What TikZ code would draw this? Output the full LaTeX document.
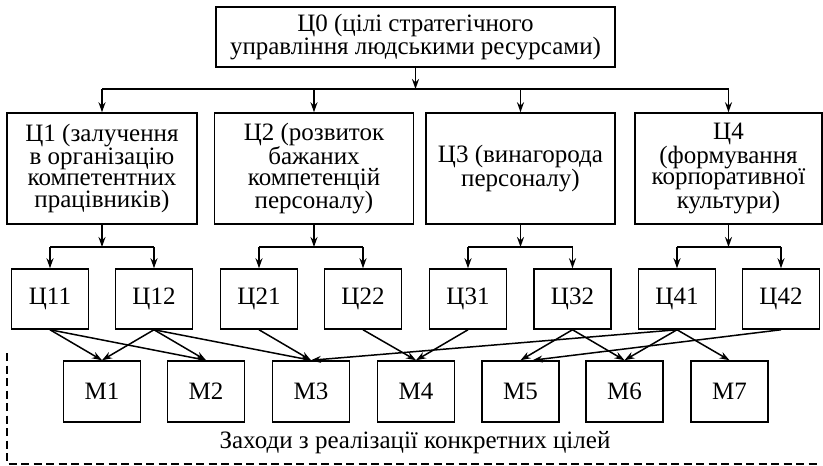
\documentclass[tikz,border=0pt]{standalone}
\usepackage{fontspec}
\setmainfont{Liberation Serif}
\usetikzlibrary{arrows.meta}

\begin{document}
\begin{tikzpicture}[
        x=1pt, y=-1pt,
        >={Stealth[length=10pt, width=7pt]},
        every path/.style={line width=1.5pt},
        goal/.style={rectangle, draw=black, line width=1.5pt, inner sep=0pt, align=center, text centered, font=\fontsize{25}{21.5}\selectfont},
        sub/.style={goal, minimum width=77pt, minimum height=60pt},
        meas/.style={goal, minimum width=77pt, minimum height=61pt}
    ]
        \useasboundingbox (0,0) rectangle (823,466);

        % Nodes
        \node (g0) at (415.5, 37) [goal, minimum width=399pt, minimum height=60pt] {Ц0 (цілі стратегічного\\управління людськими ресурсами)};
        \node (g1) at (102, 168.5) [goal, minimum width=190pt, minimum height=111pt] {Ц1 (залучення\\в організацію\\компетентних\\працівників)};
        \node (g2) at (314, 168.5) [goal, minimum width=199pt, minimum height=111pt] {Ц2 (розвиток\\бажаних\\компетенцій\\персоналу)};
        \node (g3) at (520.5, 168.5) [goal, minimum width=189pt, minimum height=111pt] {Ц3 (винагорода\\персоналу)};
        \node (g4) at (728.5, 168.5) [goal, minimum width=187pt, minimum height=111pt] {Ц4\\(формування\\корпоративної\\культури)};

        \node (g11) at (50, 299) [sub] {Ц11};
        \node (g12) at (154, 299) [sub] {Ц12};
        \node (g21) at (259, 299) [sub] {Ц21};
        \node (g22) at (363, 299) [sub] {Ц22};
        \node (g31) at (468, 299) [sub] {Ц31};
        \node (g32) at (572.5, 299) [sub] {Ц32};
        \node (g41) at (677, 299) [sub] {Ц41};
        \node (g42) at (781, 299) [sub] {Ц42};

        \node (m1) at (102, 391.5) [meas] {М1};
        \node (m2) at (206, 391.5) [meas] {М2};
        \node (m3) at (311, 391.5) [meas] {М3};
        \node (m4) at (416, 391.5) [meas] {М4};
        \node (m5) at (520.5, 391.5) [meas] {М5};
        \node (m6) at (624.5, 391.5) [meas] {М6};
        \node (m7) at (729.5, 391.5) [meas] {М7};

        \node (zaxody) at (415, 443) [font=\fontsize{25}{21.5}\selectfont] {Заходи з реалізації конкретних цілей};

        \coordinate (bus) at (415.5, 89);
        \coordinate (subbus) at (415.5, 247);

        % Arrows
        \draw[->] (g0) -- (g0 |- bus);
        \draw (g1 |- bus) -- (g4 |- bus);
        \foreach \i in {1,...,4} {
            \draw[->] (g\i |- bus) -- (g\i);
            \draw[->] (g\i) -- (g\i |- subbus);
            \draw (g\i1 |- subbus) -- (g\i2 |- subbus);
            \draw[->] (g\i1 |- subbus) -- (g\i1);
            \draw[->] (g\i2 |- subbus) -- (g\i2);
        }

        \draw[->] (g11.south) -- (m1.north);
        \draw[->] (g11.south) -- (m2.north);
        \draw[->] (g12.south) -- (m1.north);
        \draw[->] (g12.south) -- (m2.north);
        \draw[->] (g12.south) -- (m3.north);
        \draw[->] (g21.south) -- (m3.north);
        \draw[->] (g22.south) -- (m4.north);
        \draw[->] (g31.south) -- (m4.north);
        \draw[->] (g32.south) -- (m5.north);
        \draw[->] (g32.south) -- (m6.north);
        \draw[->] (g41.south) -- (m3.north);
        \draw[->] (g41.south) -- (m6.north);
        \draw[->] (g41.south) -- (m7.north);
        \draw[->] (g42.south) -- ([xshift=12pt]m5.north);

        % Dashed frame
        \draw[dash pattern=on 8pt off 4.5pt] (7, 353) -- (7, 464) -- (818, 464);

    \end{tikzpicture}
\end{document}
